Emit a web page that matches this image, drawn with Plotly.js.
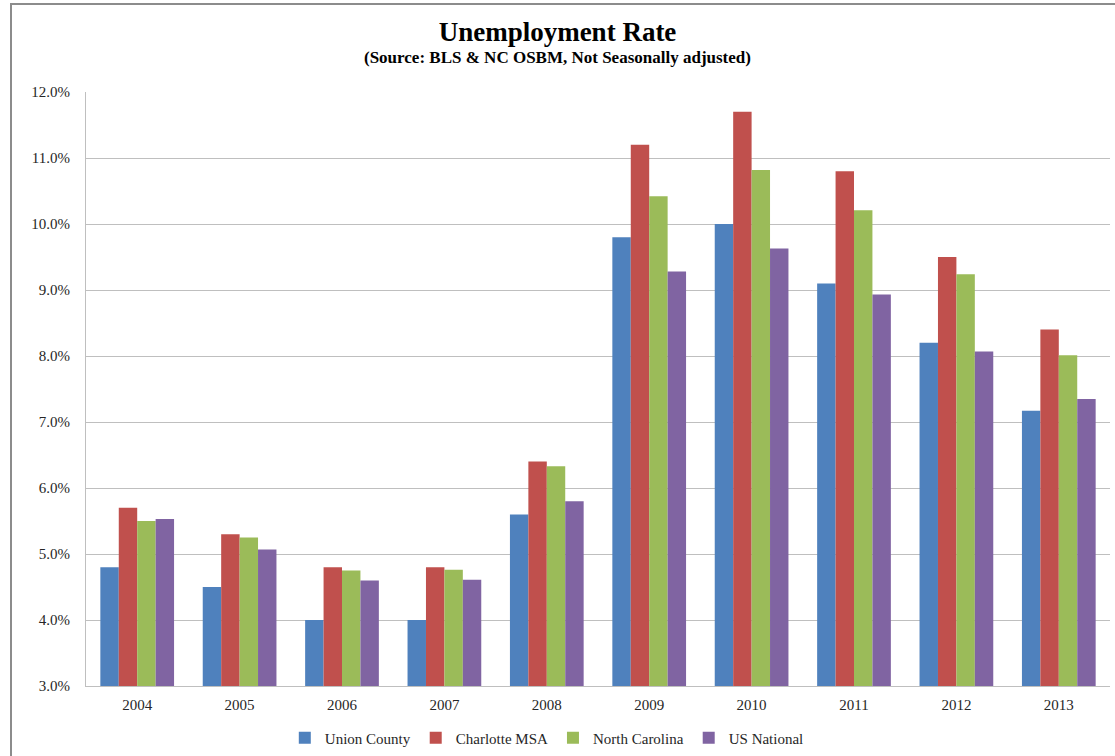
<!DOCTYPE html>
<html>
<head>
<meta charset="utf-8">
<script src="https://cdn.plot.ly/plotly-3.0.1.min.js"></script>
<style>
  html, body { margin: 0; padding: 0; background: #fff; }
  #wrap { position: relative; width: 1115px; height: 756px; }
  #chart { width: 1115px; height: 756px; }
  #frame { position: absolute; left: 10px; top: 3px; right: -10px; bottom: -10px;
           border-left: 2px solid #8c8c8c; border-top: 2px solid #8c8c8c; pointer-events: none; }
</style>
</head>
<body>
<div id="wrap">
  <div id="chart"></div>
  <div id="frame"></div>
</div>
<script>
const years = ['2004','2005','2006','2007','2008','2009','2010','2011','2012','2013'];
const unionCounty   = [4.8, 4.5, 4.0, 4.0, 5.6, 9.8, 10.0, 9.1, 8.2, 7.17];
const charlotteMSA  = [5.7, 5.3, 4.8, 4.8, 6.4, 11.2, 11.7, 10.8, 9.5, 8.4];
const northCarolina = [5.5, 5.25, 4.75, 4.76, 6.33, 10.42, 10.82, 10.21, 9.24, 8.01];
const usNational    = [5.53, 5.07, 4.6, 4.61, 5.8, 9.28, 9.63, 8.93, 8.07, 7.35];

const seriesNames  = ['Union County', 'Charlotte MSA', 'North Carolina', 'US National'];
const seriesData   = [unionCounty, charlotteMSA, northCarolina, usNational];
const seriesColors = ['#4F81BD', '#C0504D', '#9BBB59', '#8064A2'];

const font = 'Liberation Serif, Times New Roman, serif';

const traces = seriesNames.map((name, i) => ({
  type: 'bar',
  name: name,
  x: years,
  y: seriesData[i],
  marker: { color: seriesColors[i] },
  hoverinfo: 'x+y+name'
}));

const layout = {
  width: 1115,
  height: 756,
  margin: { l: 86, r: 5, t: 92, b: 70, autoexpand: false },
  paper_bgcolor: '#ffffff',
  plot_bgcolor: '#ffffff',
  font: { family: font, size: 15, color: '#262626' },
  title: {
    text: '<b>Unemployment Rate</b>',
    font: { family: font, size: 27, color: '#000000' },
    x: 0.5, xref: 'container', xanchor: 'center',
    y: 1 - 32 / 756, yref: 'container', yanchor: 'middle'
  },
  annotations: [{
    text: '<b>(Source: BLS &amp; NC OSBM, Not Seasonally adjusted)</b>',
    xref: 'paper', yref: 'paper',
    x: (557 - 86) / 1024, y: 1 + (92 - 57) / 594,
    xanchor: 'center', yanchor: 'middle',
    showarrow: false,
    font: { family: font, size: 17, color: '#000000' }
  }],
  barmode: 'group',
  bargap: 0.28,
  bargroupgap: 0,
  xaxis: {
    type: 'category',
    showgrid: false,
    showline: true,
    linecolor: '#bfbfbf',
    linewidth: 1,
    ticks: '',
    ticklabelstandoff: 5,
    tickfont: { family: font, size: 15, color: '#262626' }
  },
  yaxis: {
    range: [3, 12],
    dtick: 1,
    tick0: 3,
    tickformat: '.1f',
    ticksuffix: '%',
    showgrid: true,
    gridcolor: '#bfbfbf',
    gridwidth: 1,
    showline: true,
    linecolor: '#bfbfbf',
    ticks: '',
    ticklabelstandoff: 12,
    zeroline: false,
    tickfont: { family: font, size: 15, color: '#262626' }
  },
  showlegend: true,
  legend: {
    orientation: 'h',
    x: 0.45,
    xanchor: 'center',
    y: 1 - (738 - 92) / 594,
    yanchor: 'middle',
    font: { family: font, size: 15, color: '#262626' },
    itemwidth: 30
  }
};

Plotly.newPlot('chart', traces, layout, { displayModeBar: false, staticPlot: true });
</script>
</body>
</html>
